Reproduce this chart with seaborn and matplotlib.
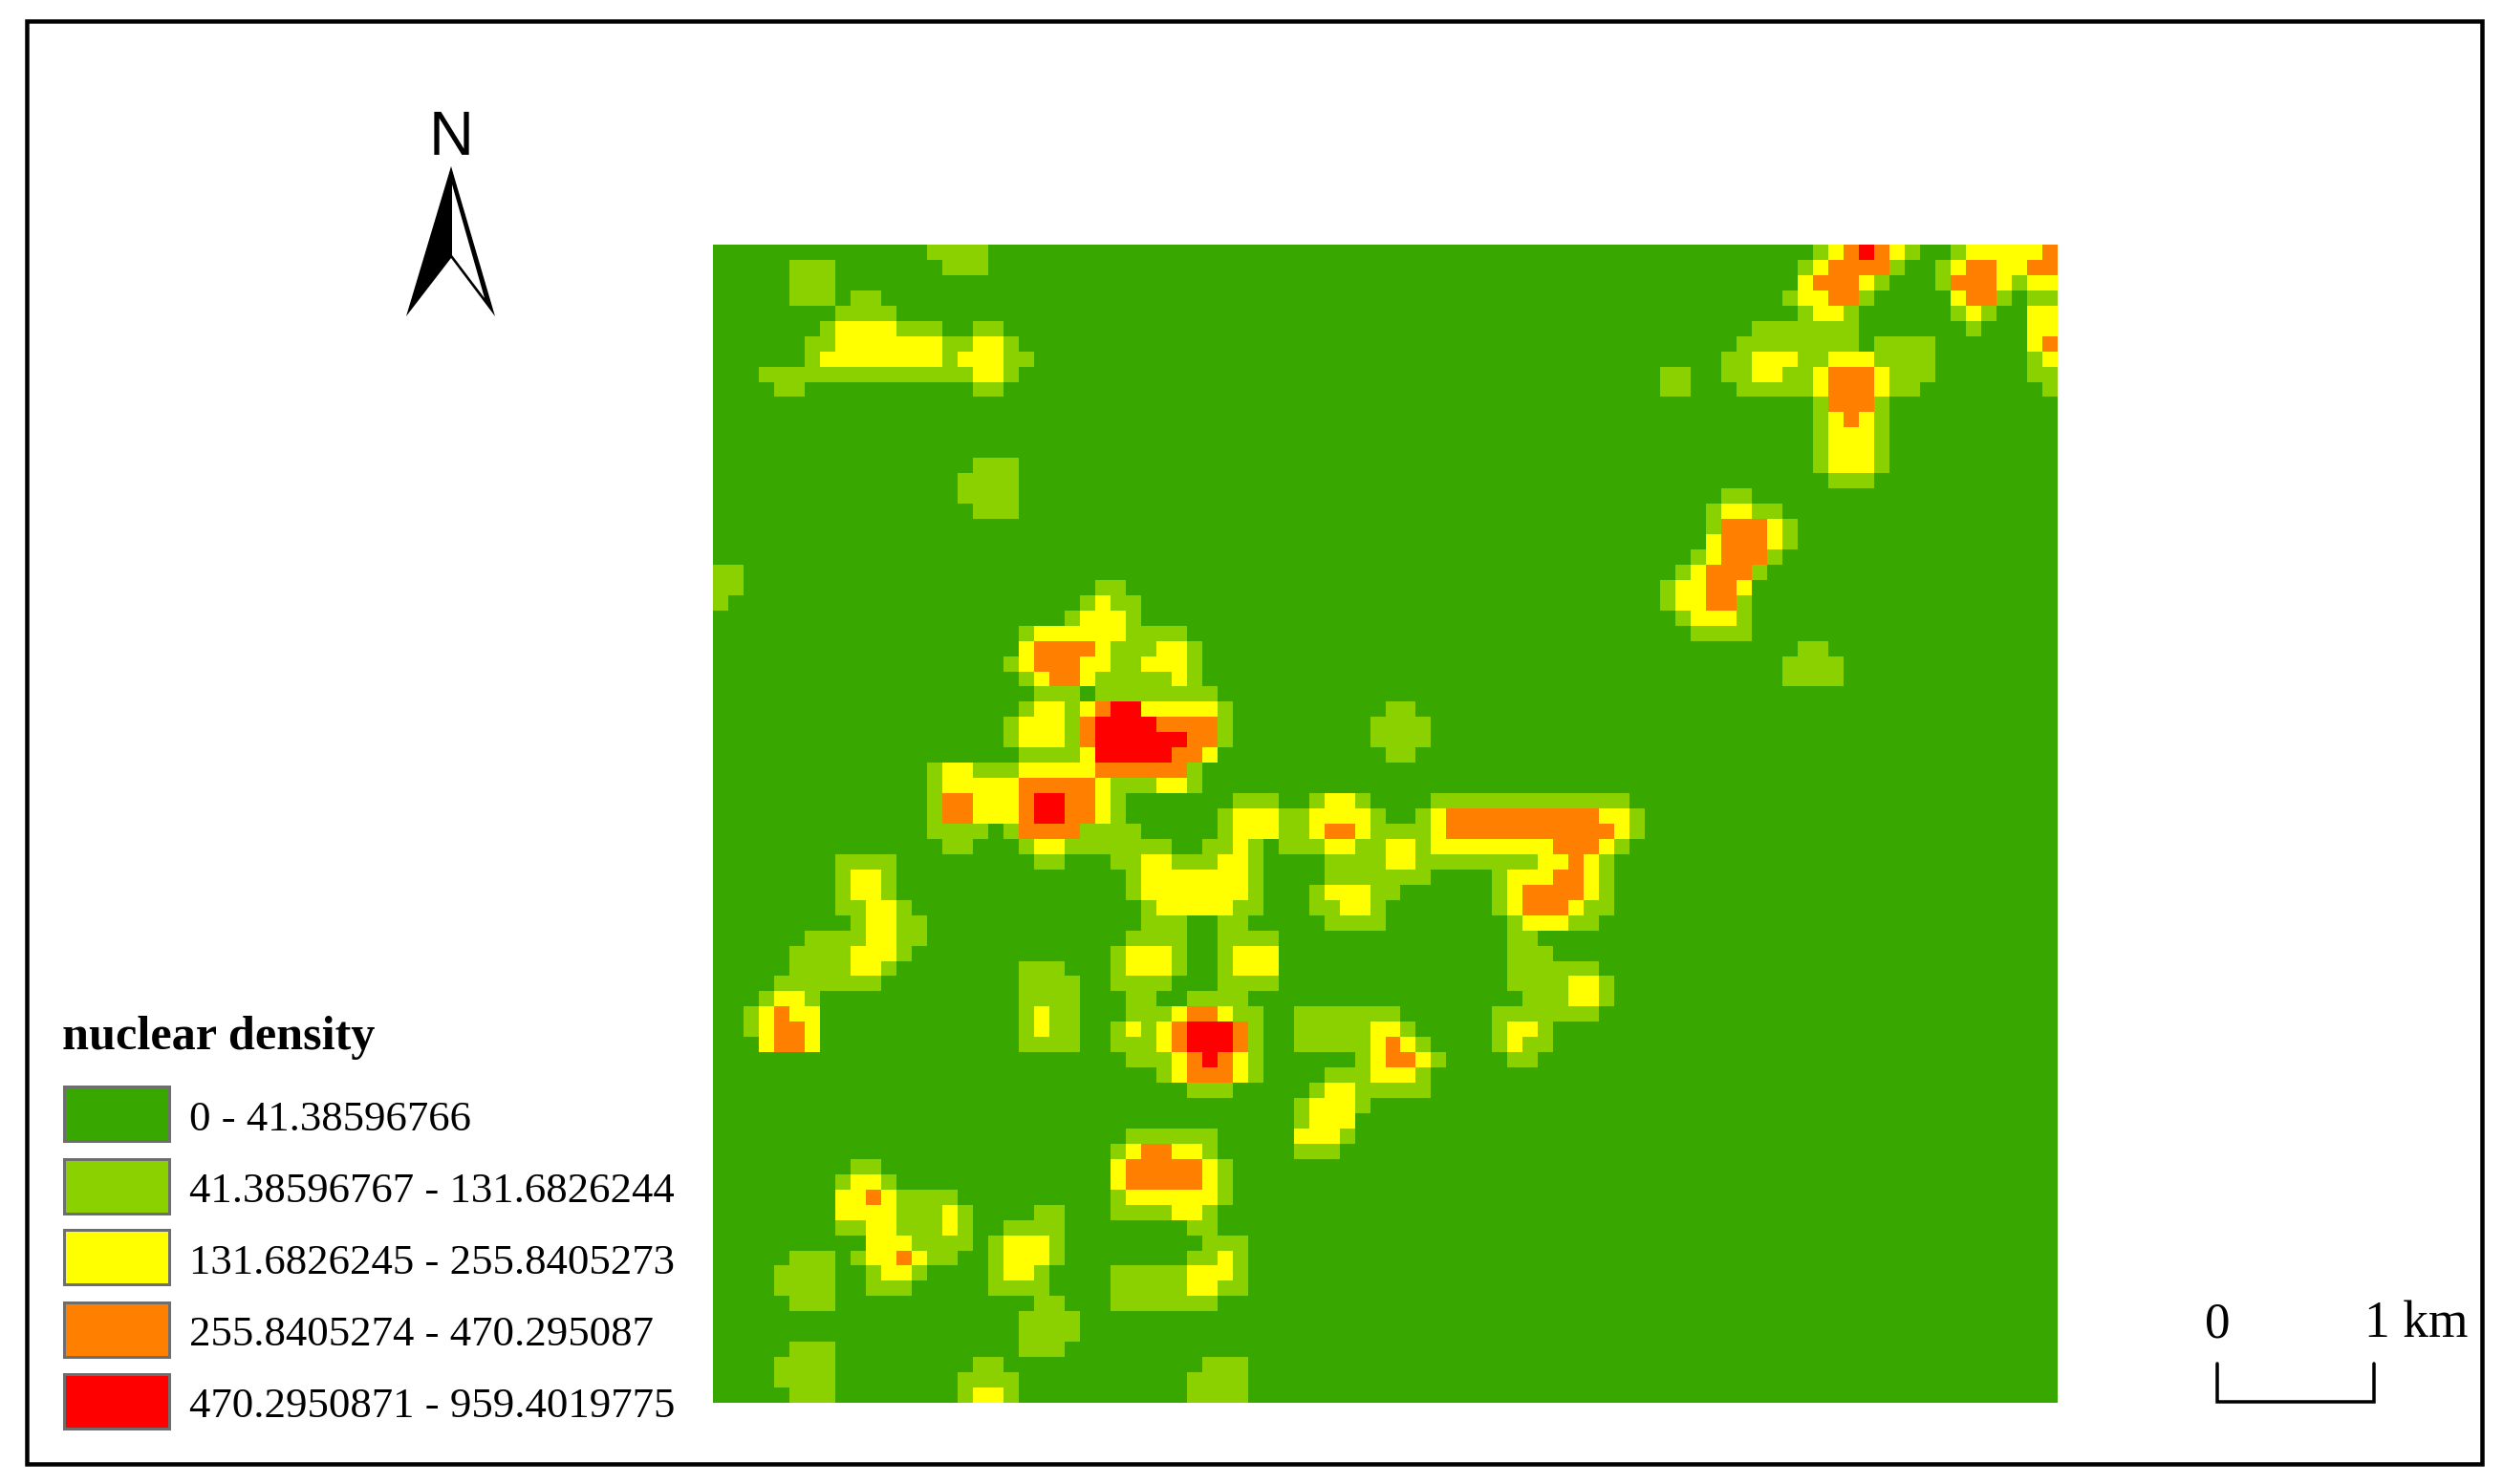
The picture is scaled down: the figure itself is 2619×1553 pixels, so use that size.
import numpy as np
import matplotlib
matplotlib.use("Agg")
import matplotlib.pyplot as plt
from matplotlib.colors import ListedColormap
from matplotlib.patches import Rectangle, Polygon
from matplotlib.lines import Line2D
import seaborn as sns

W, H = 2619, 1553
N_COLS, N_ROWS = 88, 76

CLASS_LABELS = ["0 - 41.38596766", "41.38596767 - 131.6826244", "131.6826245 - 255.8405273",
                "255.8405274 - 470.295087", "470.2950871 - 959.4019775"]
CLASS_COLORS = ["#38a800", "#8bd100", "#ffff00", "#ff7f00", "#ff0000"]

# Raster: for each density class, row -> column spans (end exclusive)
AT_LEAST_CLASS_1 = {
0:"14-18 72-79 81-88",1:"5-8 15-18 71-78 80-88",2:"5-8 71-77 80-88",3:"5-8 9-11 70-76 81-85 86-88",
4:"8-12 71-75 81-84 86-88",5:"7-15 17-19 68-75 82-83 86-88",6:"6-20 67-75 76-80 86-88",7:"6-21 66-80 86-88",
8:"3-20 62-64 66-80 86-88",9:"4-6 17-19 62-64 67-79 87-88",10:"72-77",11:"72-77",12:"72-77",13:"72-77",
14:"17-20 72-77",15:"16-20 73-76",16:"16-20 66-68",17:"17-20 65-70",18:"65-71",19:"65-71",20:"64-70",
21:"0-2 63-69",22:"0-2 25-27 62-68",23:"0-1 24-28 62-68",24:"23-28 63-68",25:"20-31 64-68",26:"20-32 71-73",
27:"19-32 70-74",28:"20-32 70-74",29:"21-24 25-33",30:"20-34 44-46",31:"19-34 43-47",32:"19-34 43-47",
33:"20-33 44-46",34:"14-32",35:"14-32",36:"14-27 34-37 39-43 47-60",37:"14-27 33-44 46-61",
38:"14-18 19-28 33-61",39:"15-17 20-30 32-36 37-60",40:"8-12 21-23 26-36 40-59",41:"8-12 27-36 40-47 51-59",
42:"8-12 27-36 39-45 51-59",43:"8-13 28-36 39-44 51-59",44:"9-14 28-31 33-35 40-44 52-58",45:"6-14 27-31 33-37 52-54",
46:"5-13 26-31 33-37 52-55",47:"5-12 20-23 26-31 33-37 52-58",48:"4-11 20-24 26-30 33-37 52-59",
49:"3-7 20-24 27-29 31-35 53-59",50:"2-7 20-24 27-36 38-45 51-58",51:"2-7 20-24 26-36 38-46 51-55",
52:"3-7 20-24 26-36 38-47 51-55",53:"27-36 42-48 52-54",54:"29-36 40-47",55:"31-34 39-47",56:"38-43",57:"38-42",
58:"27-33 38-42",59:"26-33 38-41",60:"9-11 26-34",61:"8-12 26-34",62:"8-16 26-34",63:"8-17 21-23 26-33",
64:"8-17 19-23 31-33",65:"10-17 18-23 32-35",66:"5-8 9-16 18-23 31-35",67:"4-8 10-14 18-22 26-35",
68:"4-8 10-13 18-22 26-35",69:"5-8 21-23 26-33",70:"20-24",71:"20-24",72:"5-8 20-23",73:"4-8 17-19 32-35",
74:"4-8 16-20 31-35",75:"5-8 16-20 31-35",
}
AT_LEAST_CLASS_2 = {
0:"73-78 82-88",1:"72-77 81-88",2:"71-76 81-85 86-88",3:"71-75 81-84",4:"72-74 82-83 86-88",5:"8-12 86-88",
6:"8-15 17-19 86-88",7:"7-15 16-19 68-71 73-76 87-88",8:"17-19 68-70 72-77",9:"72-77",10:"73-76",11:"73-76",
12:"73-76",13:"73-76",14:"73-76",17:"66-68",18:"66-70",19:"65-70",20:"65-69",21:"64-68",22:"63-68",
23:"25-26 63-67",24:"24-27 64-67",25:"21-27",26:"20-26 29-31",27:"20-26 28-31",28:"21-25 30-31",
30:"21-23 24-33",31:"20-23 24-33",32:"20-23 24-33",33:"24-33",34:"15-17 20-31",35:"15-26 29-31",
36:"15-26 40-42",37:"15-26 34-37 39-43 47-60",38:"20-24 34-37 39-43 47-60",39:"21-23 34-35 40-42 44-46 47-59",
40:"28-30 33-35 44-46 54-58",41:"9-11 28-35 52-58",42:"9-11 28-35 40-43 52-58",43:"10-12 29-34 41-43 52-57",
44:"10-12 53-56",45:"10-12",46:"9-12 27-30 34-37",47:"9-11 27-30 34-37",48:"56-58",49:"4-6 56-58",
50:"3-7 21-22 30-34",51:"3-7 21-22 27-28 29-35 43-45 52-54",52:"3-7 29-35 43-46 52-53",53:"30-35 43-47",
54:"30-35 43-46",55:"40-42",56:"39-42",57:"39-42",58:"38-41",59:"27-32",60:"26-33",61:"9-11 26-33",
62:"8-12 27-33",63:"8-12 15-16 30-32",64:"10-12 15-16",65:"10-13 19-22",66:"10-14 19-22 33-34",
67:"11-13 19-21 31-34",68:"31-33",75:"17-19",
}
AT_LEAST_CLASS_3 = {
0:"74-77 87-88",1:"73-77 82-84 86-88",2:"72-75 81-84",3:"73-75 82-84",6:"87-88",8:"73-76",9:"73-76",10:"73-76",
11:"74-75",18:"66-69",19:"66-69",20:"66-69",21:"65-68",22:"65-67",23:"65-67",26:"21-25",27:"21-24",28:"22-24",
30:"25-28",31:"24-33",32:"24-33",33:"25-32",34:"25-31",35:"20-25",36:"15-17 20-25",37:"15-17 20-25 48-58",
38:"20-24 40-42 48-59",39:"55-58",40:"56-57",41:"55-57",42:"53-57",43:"53-56",50:"4-5 31-33",51:"4-6 30-35",
52:"4-6 30-35 44-45",53:"31-34 44-46",54:"31-34",59:"28-30",60:"27-32",61:"27-32",62:"10-11",66:"12-13",
}
AT_LEAST_CLASS_4 = {
0:"75-76",30:"26-28",31:"25-29",32:"25-31",33:"25-30",36:"21-23",37:"21-23",51:"31-34",52:"31-34",53:"32-33",
}

grid = np.zeros((N_ROWS, N_COLS), dtype=int)
for level, table in enumerate([AT_LEAST_CLASS_1, AT_LEAST_CLASS_2, AT_LEAST_CLASS_3, AT_LEAST_CLASS_4], start=1):
    for row, spans in table.items():
        for span in spans.split():
            a, b = span.split("-")
            grid[row, int(a):int(b)] = level

sns.set_style("white")
SERIF = ["Liberation Serif", "DejaVu Serif"]
SANS = ["Liberation Sans", "DejaVu Sans"]

fig = plt.figure(figsize=(W / 100, H / 100), dpi=100, facecolor="white")


def fx(x):
    return x / W


def fy(y):
    return 1 - y / H


def pts(px):
    return px * 72 / 100


ax = fig.add_axes([fx(746), fy(1468), (2153 - 746) / W, (1468 - 256) / H])
sns.heatmap(grid, ax=ax, cmap=ListedColormap(CLASS_COLORS), vmin=-0.5, vmax=4.5, cbar=False,
            xticklabels=False, yticklabels=False, square=False)
ax.tick_params(length=0)

# map frame
fig.add_artist(Rectangle((fx(28), fy(1532)), (2597 - 28) / W, (1532 - 22) / H, transform=fig.transFigure,
                         fill=False, edgecolor="black", linewidth=pts(4.5)))

# legend
fig.text(fx(65), fy(1098), "nuclear density", family=SERIF, fontweight="bold", fontsize=pts(50.3),
         va="baseline", ha="left", color="black")
swatch_tops = [1137, 1213, 1287, 1363, 1438]
baselines = [1183, 1258, 1333, 1408, 1483]
for top, base, label, colour in zip(swatch_tops, baselines, CLASS_LABELS, CLASS_COLORS):
    fig.add_artist(Rectangle((fx(67), fy(top + 57)), 110 / W, 57 / H, transform=fig.transFigure,
                             facecolor=colour, edgecolor="#6e6e6e", linewidth=pts(3)))
    fig.text(fx(198), fy(base), label, family=SERIF, fontsize=pts(44.8), va="baseline", ha="left", color="black")

# north arrow
fig.text(fx(472.5), fy(162), "N", family=SANS, fontsize=pts(65), va="baseline", ha="center", color="black")
to_fig = lambda p: [(fx(x), fy(y)) for x, y in p]
fig.add_artist(Polygon(to_fig([(472, 174), (518, 331), (472, 270), (425, 331)]), closed=True,
                       transform=fig.transFigure, facecolor="black", edgecolor="none"))
fig.add_artist(Polygon(to_fig([(473, 193), (507, 312), (473, 267)]), closed=True,
                       transform=fig.transFigure, facecolor="white", edgecolor="none"))

# scale bar
fig.add_artist(Line2D([fx(2320), fx(2320), fx(2484), fx(2484)], [fy(1427), fy(1467), fy(1467), fy(1427)],
                      transform=fig.transFigure, color="black", linewidth=pts(3.5), solid_joinstyle="miter"))
fig.text(fx(2320), fy(1399), "0", family=SERIF, fontsize=pts(53), va="baseline", ha="center", color="black")
fig.text(fx(2474), fy(1399), "1 km", family=SERIF, fontsize=pts(53.5), va="baseline", ha="left", color="black")

fig.savefig("out.png", dpi=100, facecolor="white")
